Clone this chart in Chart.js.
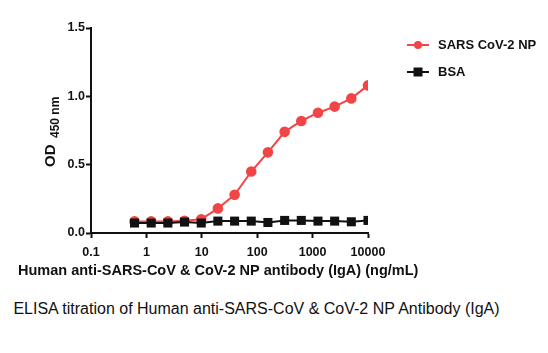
<!DOCTYPE html>
<html>
<head>
<meta charset="utf-8">
<script src="https://cdn.jsdelivr.net/npm/chart.js@4"></script>
<style>
  body { margin: 0; background: #fff; }
  #wrap { position: absolute; left: 0; top: 0; width: 548px; height: 290px; }
  #caption {
    position: absolute; left: 0; top: 300px; width: 513px; text-align: center;
    font-family: "Liberation Sans", Arial, sans-serif; font-size: 16px; color: #111;
  }
</style>
</head>
<body>
<div id="wrap"><canvas id="elisaChart"></canvas></div>
<div id="caption">ELISA titration of Human anti-SARS-CoV &amp; CoV-2 NP Antibody (IgA)</div>
<script>
// antibody concentration, ng/mL (2-fold dilutions)
const conc = [0.61, 1.22, 2.44, 4.88, 9.77, 19.5, 39.1, 78.1, 156, 313, 625, 1250, 2500, 5000, 10000];
const npOD = [0.085, 0.085, 0.085, 0.09, 0.10, 0.18, 0.28, 0.45, 0.59, 0.74, 0.82, 0.88, 0.925, 0.985, 1.08];
const bsaOD = [0.073, 0.073, 0.073, 0.08, 0.073, 0.087, 0.087, 0.087, 0.077, 0.092, 0.092, 0.087, 0.087, 0.082, 0.092];
const xTicks = [0.1, 1, 10, 100, 1000, 10000];
const yTicks = [0, 0.5, 1.0, 1.5];

const RED = "#f24545";
const boldFont = '"Liberation Sans", Arial, sans-serif';

const titlesAndLegend = {
  id: "titlesAndLegend",
  afterDraw(chart) {
    const ctx = chart.ctx;
    ctx.save();
    ctx.fillStyle = "#111";
    // y title: OD 450 nm (subscript)
    ctx.translate(55, 130);
    ctx.rotate(-Math.PI / 2);
    ctx.textBaseline = "alphabetic";
    ctx.textAlign = "left";
    ctx.font = "bold 15px " + boldFont;
    ctx.fillText("OD", -37, 0);
    ctx.font = "bold 12px " + boldFont;
    ctx.fillText("450 nm", -8, 4);
    ctx.restore();

    // x title
    ctx.save();
    ctx.fillStyle = "#111";
    ctx.font = "bold 14.5px " + boldFont;
    ctx.textAlign = "left";
    ctx.textBaseline = "middle";
    ctx.fillText("Human anti-SARS-CoV & CoV-2 NP antibody (IgA) (ng/mL)", 18, 271);

    // legend
    const items = chart.data.datasets;
    const rows = [45, 72];
    items.forEach((ds, i) => {
      const y = rows[i];
      ctx.strokeStyle = ds.borderColor;
      ctx.lineWidth = 2;
      ctx.beginPath();
      ctx.moveTo(407, y);
      ctx.lineTo(429, y);
      ctx.stroke();
      ctx.fillStyle = ds.pointBackgroundColor;
      if (ds.pointStyle === "rect") {
        ctx.fillRect(413.5, y - 4.5, 9, 9);
      } else {
        ctx.beginPath();
        ctx.arc(418, y, 4, 0, Math.PI * 2);
        ctx.fill();
      }
      ctx.fillStyle = "#111";
      ctx.font = "bold 13px " + boldFont;
      ctx.fillText(ds.label, 438, y);
    });
    ctx.restore();
  }
};

new Chart(document.getElementById("elisaChart"), {
  type: "line",
  data: {
    datasets: [
      {
        label: "SARS CoV-2 NP",
        data: conc.map((c, i) => ({ x: c, y: npOD[i] })),
        borderColor: RED,
        backgroundColor: RED,
        pointBackgroundColor: RED,
        pointBorderColor: RED,
        pointStyle: "circle",
        pointRadius: 4.3,
        borderWidth: 2,
        tension: 0,
        order: 1,
      },
      {
        label: "BSA",
        data: conc.map((c, i) => ({ x: c, y: bsaOD[i] })),
        borderColor: "#111",
        backgroundColor: "#111",
        pointBackgroundColor: "#111",
        pointBorderColor: "#111",
        pointStyle: "rect",
        pointRadius: 6.4,
        pointBorderWidth: 0,
        borderWidth: 2,
        tension: 0,
        order: 0,
      },
    ],
  },
  options: {
    responsive: true,
    maintainAspectRatio: false,
    animation: false,
    layout: { padding: { left: 0, right: 180, top: 28, bottom: 0 } },
    plugins: { legend: { display: false }, tooltip: { enabled: false } },
    scales: {
      x: {
        type: "logarithmic",
        min: 0.1,
        max: 10000,
        afterBuildTicks: (s) => { s.ticks = xTicks.map((v) => ({ value: v })); },
        afterFit: (s) => { s.height = 57; },
        border: { display: true, color: "#111", width: 2 },
        grid: { display: true, drawOnChartArea: false, drawTicks: true, tickLength: 5, tickWidth: 2, color: "#111" },
        ticks: {
          color: "#111",
          font: { family: boldFont, size: 12.5, weight: "bold" },
          padding: 7,
          maxRotation: 0,
          autoSkip: false,
          callback: (v) => String(v),
        },
      },
      y: {
        min: 0,
        max: 1.5,
        afterBuildTicks: (s) => { s.ticks = yTicks.map((v) => ({ value: v })); },
        afterFit: (s) => { s.width = 91; },
        border: { display: true, color: "#111", width: 2 },
        grid: { display: true, drawOnChartArea: false, drawTicks: true, tickLength: 5, tickWidth: 2, color: "#111" },
        ticks: {
          color: "#111",
          font: { family: boldFont, size: 12.5, weight: "bold" },
          padding: 1,
          callback: (v) => v.toFixed(1),
        },
      },
    },
  },
  plugins: [titlesAndLegend],
});
</script>
</body>
</html>
